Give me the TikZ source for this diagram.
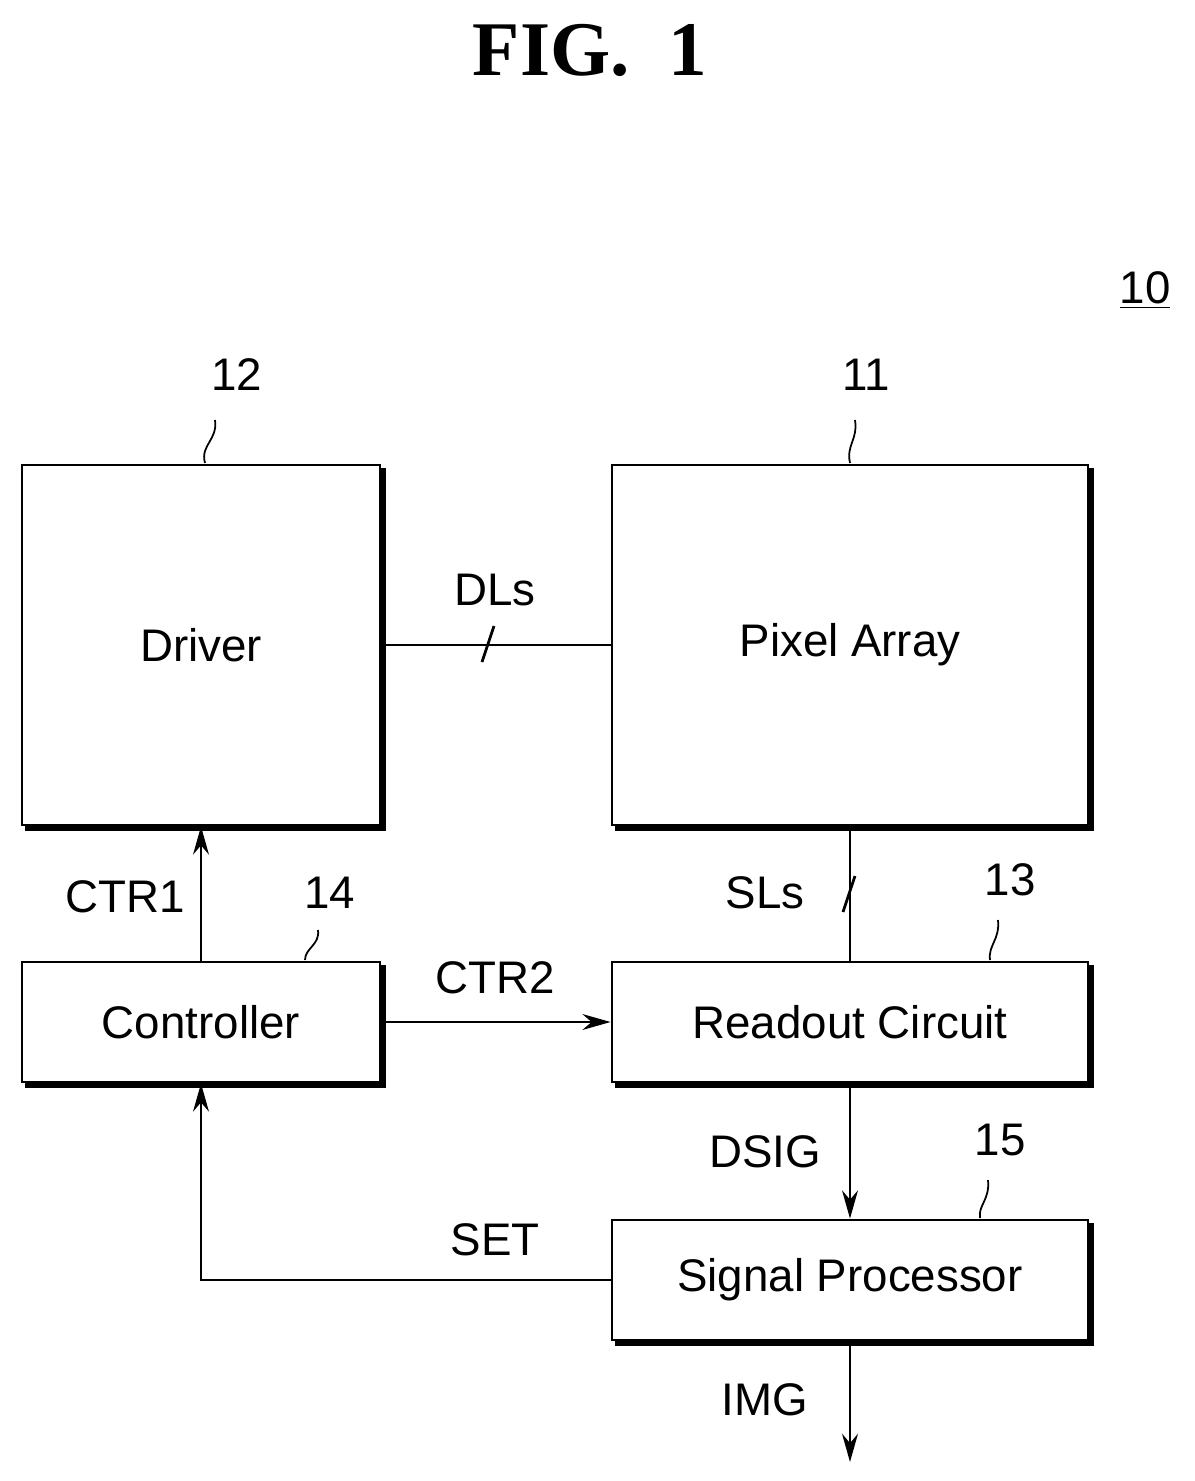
\documentclass[tikz,border=0pt]{standalone}
\usepackage{fontspec}
\setmainfont{Liberation Sans}
\newfontfamily\figfont{Liberation Serif}
\usetikzlibrary{arrows.meta}
\tikzset{
  blk/.style={draw, line width=1.6pt, fill=white, inner sep=0pt},
  lbl/.style={font=\fontsize{26}{30}\selectfont},
  sig/.style={line width=1.6pt},
  arr/.style={sig, -{Stealth[length=16pt,width=9pt]}},
  lead/.style={line width=1pt}
}
\newcommand{\shadowbox}[5]{% name, x1, y1, x2, y2
  \draw[line width=3pt] (#2+3,#5+3) -- (#4+3,#5+3) -- (#4+3,#3+3);
  \node[blk, minimum width={(#4-#2)*0.02cm}, minimum height={(#5-#3)*0.02cm}] (#1) at ({(#2+#4)/2},{(#3+#5)/2}) {};
}
\begin{document}
\begin{tikzpicture}[x=0.02cm, y=-0.02cm]
  \useasboundingbox (0,0) rectangle (1194,1481);
  % title and reference number
  \node[font=\figfont\bfseries\fontsize{44}{50}\selectfont] (title) at (590,50) {FIG.\ \ 1};
  \node[lbl] (ref) at (1145,290) {\underline{10}};

  % blocks
  \shadowbox{drv}{22}{465}{380}{825}
  \shadowbox{pix}{612}{465}{1088}{825}
  \shadowbox{ctl}{22}{962}{380}{1082}
  \shadowbox{rdo}{612}{962}{1088}{1082}
  \shadowbox{sp}{612}{1220}{1088}{1340}
  \node[lbl] at (drv) {Driver};
  \node[lbl] at (pix) {Pixel Array};
  \node[lbl] at (ctl) {Controller};
  \node[lbl] at (rdo) {Readout Circuit};
  \node[lbl] at (sp) {Signal Processor};

  % reference numerals with leaders
  \node[lbl] (n12) at (237,375) {12};
  \node[lbl] (n11) at (866,375) {11};
  \node[lbl] (n14) at (330,893) {14};
  \node[lbl] (n13) at (1010,880) {13};
  \node[lbl] (n15) at (1000,1140) {15};
  \draw[lead] (215,420) .. controls (218,440) and (200,445) .. (205,463);
  \draw[lead] (855,420) .. controls (858,440) and (846,445) .. (850,463);
  \draw[lead] (318,930) .. controls (320,945) and (305,948) .. (305,960);
  \draw[lead] (998,920) .. controls (1000,940) and (988,945) .. (990,960);
  \draw[lead] (988,1180) .. controls (990,1200) and (978,1205) .. (980,1218);

  % connections
  \draw[sig] (drv.east) -- (pix.west);
  \draw[sig] (482,662) -- (494,626);
  \node[lbl] (dls) at (495,590) {DLs};

  \coordinate (slt) at (pix.south);
  \draw[sig] (slt) -- (rdo.north);
  \draw[sig] (843,912) -- (855,876);
  \node[lbl] (sls) at (765,893) {SLs};

  \draw[arr] (ctl.north) -- (drv.south);
  \node[lbl] (ctr1) at (125,897) {CTR1};

  \draw[arr] (ctl.east) -- (rdo.west);
  \node[lbl] (ctr2) at (495,978) {CTR2};

  \draw[arr] (rdo.south) -- (sp.north);
  \node[lbl] (dsig) at (765,1152) {DSIG};

  \draw[arr] (sp.west) -| (ctl.south);
  \node[lbl] (set) at (495,1240) {SET};

  \coordinate (imgend) at (850,1462);
  \draw[arr] (sp.south) -- (imgend);
  \node[lbl] (img) at (765,1400) {IMG};
\end{tikzpicture}
\end{document}
